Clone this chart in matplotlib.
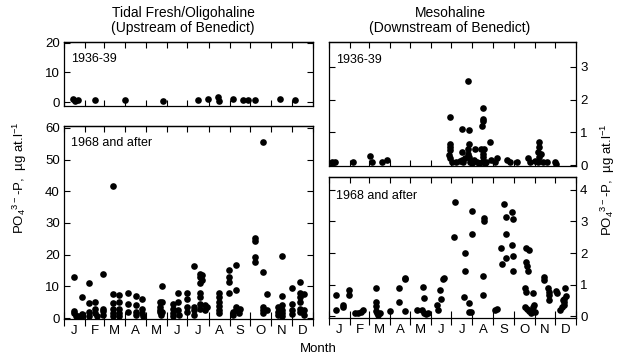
import matplotlib
matplotlib.use("Agg")
import matplotlib.pyplot as plt
import numpy as np

plt.rcParams['font.family'] = ['Liberation Sans', 'DejaVu Sans']
plt.rcParams['mathtext.default'] = 'regular'

# ---------------- data (day of year, PO4-P value) ----------------
months = ['J', 'F', 'M', 'A', 'M', 'J', 'J', 'A', 'S', 'O', 'N', 'D']
month_edges = [0, 31, 59, 90, 120, 151, 181, 212, 243, 273, 304, 334, 365]

# Tidal fresh / oligohaline, 1936-39
tf36_day = [13, 16, 21, 45, 89, 145, 196, 211, 226, 227, 248, 262, 270, 280, 317, 339]
tf36_val = [1.0, 0.3, 0.6, 0.6, 0.8, 0.5, 0.8, 1.0, 1.8, 0.3, 1.2, 0.8, 0.6, 0.6, 1.2, 0.8]

# Tidal fresh / oligohaline, 1968 and after
tf68_day = [14, 14, 14, 17, 20, 26, 26, 26,
            36, 36, 36, 36, 45, 45, 45, 48, 57, 57, 57, 57,
            72, 72, 72, 72, 72, 72, 80, 80, 80, 80, 80,
            94, 94, 94, 105, 105, 105, 105, 114, 114, 114, 116,
            140, 140, 140, 140, 142, 143, 143, 143,
            160, 160, 160, 160, 167, 167, 167, 168, 180, 180, 180, 180,
            190, 190, 190, 190, 200, 200, 200, 200, 200, 200, 200, 202, 202, 206, 206, 210,
            227, 227, 227, 227, 227, 227,
            242, 242, 242, 242, 248, 248, 252, 252, 252, 252, 256, 258,
            280, 280, 280, 280, 291, 291, 291, 291, 291, 297, 297,
            313, 313, 313, 320, 320, 320, 320, 320, 320,
            334, 334, 334, 334, 346, 346, 346, 346, 346, 346, 352, 352, 352]
tf68_val = [13.0, 2.3, 1.5, 0.8, 0.5, 6.7, 1.2, 0.6,
            11.0, 4.8, 2.0, 0.8, 5.2, 2.8, 1.5, 0.6, 13.9, 3.0, 2.2, 1.0,
            41.7, 7.5, 4.6, 3.0, 1.5, 0.6, 7.2, 5.0, 3.0, 1.5, 0.8,
            7.8, 4.5, 1.8, 6.8, 4.0, 2.0, 1.0, 6.0, 3.0, 1.5, 0.5,
            5.0, 3.5, 2.5, 1.8, 1.0, 10.1, 5.0, 2.0,
            4.5, 3.0, 1.5, 0.7, 7.8, 5.0, 2.5, 1.0, 7.8, 6.0, 3.5, 2.0,
            16.4, 3.5, 2.5, 1.0, 14.0, 12.8, 11.0, 8.0, 6.5, 4.5, 3.0, 13.5, 12.0, 4.0, 2.5, 3.5,
            8.0, 6.7, 5.0, 3.8, 2.5, 1.5,
            15.2, 13.0, 11.5, 7.8, 2.0, 1.0, 16.7, 9.0, 3.5, 2.5, 1.5, 3.0,
            25.4, 24.2, 19.4, 17.8, 55.4, 14.5, 3.5, 2.5, 1.5, 7.6, 2.5,
            3.5, 2.0, 1.0, 19.7, 6.8, 4.0, 2.5, 1.5, 0.8,
            9.4, 4.5, 2.5, 1.2, 11.5, 8.0, 6.5, 5.0, 3.0, 1.8, 7.5, 2.5, 1.0]

# Mesohaline, 1936-39
ms36_day = [4, 9, 35, 60, 63, 78, 85,
            179, 179, 179, 179, 178, 179, 182, 188, 193, 198,
            196, 196, 196, 201,
            206, 207, 207, 206, 206, 207, 208, 212,
            216, 214, 218, 222,
            227, 228, 228, 226, 225, 229, 227, 228, 226, 230, 232,
            238, 240, 248, 246,
            263, 268, 278,
            294, 297, 304, 309,
            311, 311, 309, 313, 310, 316, 322, 334, 335]
ms36_val = [0.1, 0.1, 0.1, 0.29, 0.1, 0.1, 0.15,
            1.46, 0.65, 0.55, 0.45, 0.3, 0.2, 0.1, 0.1, 0.12, 0.1,
            1.09, 0.4, 0.15, 0.2,
            2.58, 1.06, 0.65, 0.5, 0.35, 0.25, 0.1, 0.05,
            0.5, 0.15, 0.1, 0.05,
            1.75, 1.42, 1.35, 1.2, 0.5, 0.5, 0.35, 0.25, 0.1, 0.05, 0.1,
            0.7, 0.15, 0.2, 0.1,
            0.15, 0.1, 0.08,
            0.2, 0.08, 0.12, 0.08,
            0.7, 0.55, 0.4, 0.35, 0.25, 0.1, 0.08, 0.08, 0.03]

# Mesohaline, 1968 and after
ms68_day = [10, 10, 21, 21, 29, 29,
            38, 43, 47, 50,
            69, 69, 69, 70, 71, 75, 73,
            90,
            103, 103, 112, 113, 113,
            130, 137, 139, 140, 140, 143, 146,
            160, 161, 164, 165, 169, 170,
            184, 186,
            201, 201, 200, 207, 207, 210,
            211, 211,
            228, 228, 229, 229,
            248, 246,
            254, 255, 259, 262, 262, 261,
            271, 272, 271, 272, 272,
            291, 296, 291, 292, 294, 290, 291, 302,
            290, 292, 295, 298, 300, 302, 303, 305,
            317, 318, 324, 325, 325, 325,
            336, 337, 349, 350, 348, 346, 347, 344, 342, 347]
ms68_val = [0.67, 0.19, 0.35, 0.3, 0.82, 0.67,
            0.1, 0.1, 0.12, 0.2,
            0.88, 0.45, 0.33, 0.17, 0.1, 0.1, 0.05,
            0.15,
            0.88, 0.46, 1.17, 1.2, 0.17,
            0.19, 0.19, 0.91, 0.58, 0.1, 0.07, 0.1,
            0.35, 0.2, 0.82, 0.55, 1.17, 1.22,
            2.52, 3.63,
            1.99, 1.43, 0.61, 0.4, 0.14, 0.14,
            3.33, 2.59,
            1.28, 0.67, 3.10, 3.02,
            0.24, 0.2,
            2.17, 1.64, 3.55, 3.13, 2.59, 1.83,
            3.31, 3.07, 2.25, 1.92, 1.43,
            2.17, 2.1, 1.7, 1.6, 1.43, 0.88, 0.78, 0.72,
            0.3, 0.22, 0.15, 0.1, 0.18, 0.28, 0.35, 0.12,
            1.25, 1.13, 0.88, 0.78, 0.66, 0.5,
            0.8, 0.72, 0.88, 0.65, 0.55, 0.5, 0.45, 0.3, 0.2, 0.35]

# ---------------- figure ----------------
W, H = 623, 358
fig = plt.figure(figsize=(W / 100, H / 100), dpi=100)


def rect(x0, y0, x1, y1):
    return [x0 / W, 1 - y1 / H, (x1 - x0) / W, (y1 - y0) / H]


ax_tl = fig.add_axes(rect(64, 42, 313, 106))
ax_bl = fig.add_axes(rect(64, 126, 313, 319))
ax_tr = fig.add_axes(rect(329, 42, 576, 166))
ax_br = fig.add_axes(rect(329, 177, 576, 318))

FS = 9.5
mids = [(month_edges[i] + month_edges[i + 1]) / 2 for i in range(12)]


def style(ax, days, vals, ylim, yticks, side, label_months, tag, tag_y):
    ax.plot(days, vals, 'o', color='black', ms=4.8, mec='black', mew=0, ls='none')
    ax.set_xlim(0, 365)
    ax.set_ylim(*ylim)
    for s in ax.spines.values():
        s.set_linewidth(0.9)
    ax.set_yticks(yticks)
    ax.tick_params(axis='y', direction='in', length=4, width=0.8, left=True, right=True,
                   labelleft=(side == 'left'), labelright=(side == 'right'), labelsize=FS, pad=3)
    ax.set_xticks(month_edges)
    ax.set_xticklabels([])
    if label_months:
        ax.tick_params(axis='x', which='major', direction='inout', length=10, width=0.8,
                       top=False, bottom=True)
        ax.set_xticks(mids, minor=True)
        ax.set_xticklabels(months, minor=True)
        ax.tick_params(axis='x', which='minor', length=0, labelsize=FS, pad=4)
    else:
        ax.tick_params(axis='x', which='major', direction='in', length=4, width=0.8,
                       top=False, bottom=True)
    sec = ax.secondary_xaxis('top')
    sec.set_xticks(month_edges)
    sec.set_xticklabels([])
    sec.tick_params(direction='in', length=4, width=0.8)
    sec.spines['top'].set_linewidth(0.9)
    ax.text(0.03, tag_y, tag, transform=ax.transAxes,
            fontsize=9, va='center', ha='left')


style(ax_tl, tf36_day, tf36_val, (-1.3, 20.2), [0, 10, 20], 'left', False, '1936-39', 0.74)
style(ax_bl, tf68_day, tf68_val, (-0.3, 60.6), [0, 10, 20, 30, 40, 50, 60], 'left', True,
      '1968 and after', 0.912)
style(ax_tr, ms36_day, ms36_val, (-0.03, 3.76), [0, 1, 2, 3], 'right', False, '1936-39', 0.855)
style(ax_br, ms68_day, ms68_val, (-0.06, 4.41), [0, 1, 2, 3, 4], 'right', True,
      '1968 and after', 0.865)

# titles
TFS = 10
fig.text(183 / W, 1 - 13 / H, 'Tidal Fresh/Oligohaline', ha='center', va='center', fontsize=TFS)
fig.text(183 / W, 1 - 28 / H, '(Upstream of Benedict)', ha='center', va='center', fontsize=TFS)
fig.text(450 / W, 1 - 13 / H, 'Mesohaline', ha='center', va='center', fontsize=TFS)
fig.text(450 / W, 1 - 28 / H, '(Downstream of Benedict)', ha='center', va='center', fontsize=TFS)

ylab = r'PO$_4$$^{3-}$-P,  µg at.l$^{-1}$'
fig.text(20 / W, 1 - 178 / H, ylab, rotation=90, ha='center', va='center', fontsize=9.5)
fig.text(608 / W, 1 - 180 / H, ylab, rotation=90, ha='center', va='center', fontsize=9.5)
fig.text(318 / W, 1 - 349 / H, 'Month', ha='center', va='center', fontsize=9.5)

fig.savefig('out.png', dpi=100)
